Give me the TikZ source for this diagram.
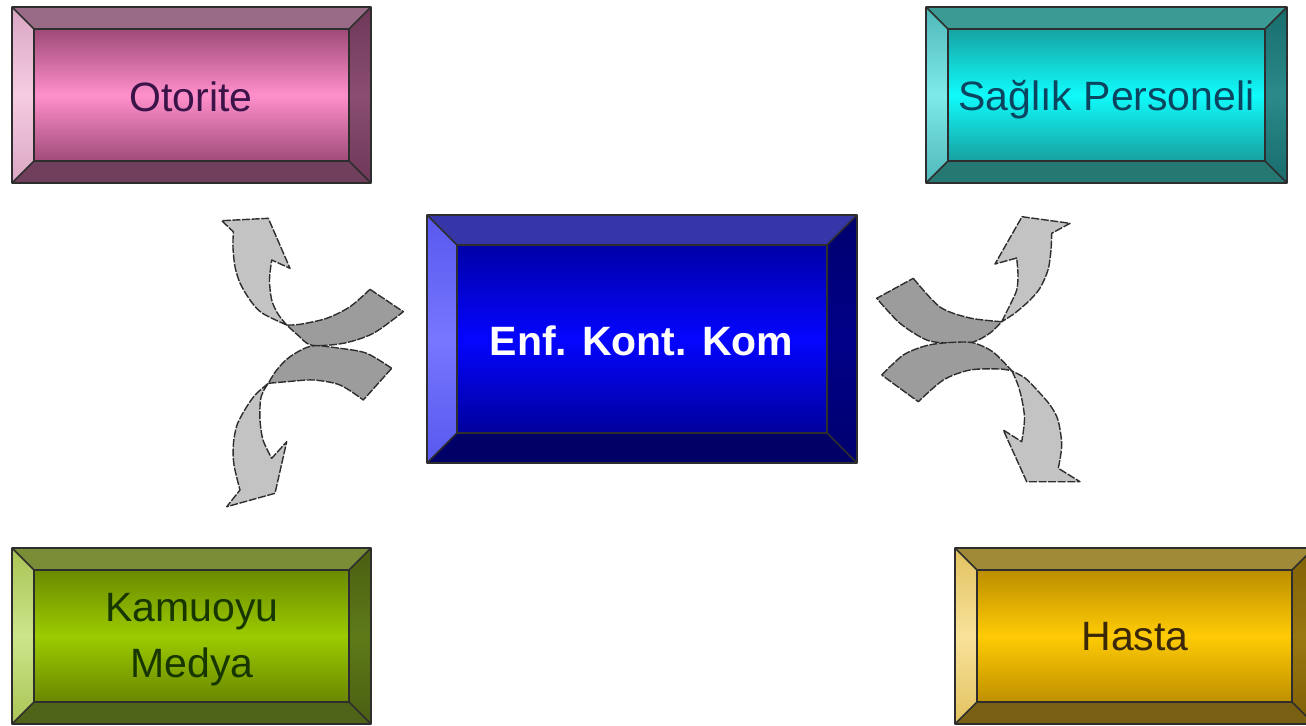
\documentclass[tikz,border=0pt]{standalone}
\usepackage{fontspec}
\setmainfont{Liberation Sans}
\usetikzlibrary{calc}
% Otorite
\definecolor{otFt}{HTML}{9E4A78}\definecolor{otFm}{HTML}{FF8FCB}\definecolor{otFb}{HTML}{A04C7A}
\definecolor{otT}{HTML}{9A6B86}\definecolor{otL}{HTML}{D9A6C2}\definecolor{otLm}{HTML}{F5CCE2}
\definecolor{otR}{HTML}{6E3858}\definecolor{otRm}{HTML}{8A4E70}\definecolor{otB}{HTML}{6F3F5C}
\definecolor{otX}{HTML}{3A1448}
% Saglik
\definecolor{saFt}{HTML}{16A3A3}\definecolor{saFm}{HTML}{10FBFB}\definecolor{saFb}{HTML}{18A0A0}
\definecolor{saT}{HTML}{3B9A93}\definecolor{saL}{HTML}{4FB8B8}\definecolor{saLm}{HTML}{7FEAEA}
\definecolor{saR}{HTML}{196C6C}\definecolor{saRm}{HTML}{2A8A8A}\definecolor{saB}{HTML}{267873}
\definecolor{saX}{HTML}{0C4560}
% Kamuoyu
\definecolor{kaFt}{HTML}{6B8A00}\definecolor{kaFm}{HTML}{9BCB00}\definecolor{kaFb}{HTML}{6A8600}
\definecolor{kaT}{HTML}{7A8E38}\definecolor{kaL}{HTML}{A9C455}\definecolor{kaLm}{HTML}{CDE58A}
\definecolor{kaR}{HTML}{4A5E12}\definecolor{kaRm}{HTML}{5E7A18}\definecolor{kaB}{HTML}{4F6418}
\definecolor{kaX}{HTML}{173600}
% Hasta
\definecolor{haFt}{HTML}{BC8E00}\definecolor{haFm}{HTML}{FFCB05}\definecolor{haFb}{HTML}{BE9000}
\definecolor{haT}{HTML}{A08A38}\definecolor{haL}{HTML}{E2C260}\definecolor{haLm}{HTML}{F8E29A}
\definecolor{haR}{HTML}{7E6005}\definecolor{haRm}{HTML}{9A7810}\definecolor{haB}{HTML}{7A6012}
\definecolor{haX}{HTML}{3A2808}
% Center
\definecolor{enFt}{HTML}{0000A8}\definecolor{enFm}{HTML}{0505FF}\definecolor{enFb}{HTML}{00009C}
\definecolor{enT}{HTML}{3636A8}\definecolor{enL}{HTML}{5858EE}\definecolor{enLm}{HTML}{7676FF}
\definecolor{enR}{HTML}{00006E}\definecolor{enRm}{HTML}{000088}\definecolor{enB}{HTML}{000066}
% arrows
\definecolor{arrL}{HTML}{C3C3C3}\definecolor{arrD}{HTML}{9C9C9C}\definecolor{arrE}{HTML}{2E2E2E}

\newcommand\bevelbox[6]{%
  \pgfmathsetmacro\bxA{#2+#6}%
  \pgfmathsetmacro\bxB{#3+#6}%
  \pgfmathsetmacro\bxC{#4-#6}%
  \pgfmathsetmacro\bxD{#5-#6}%
  \shade[top color=#1Ft, bottom color=#1Fb, middle color=#1Fm] (\bxA,\bxB) rectangle (\bxC,\bxD);
  \fill[#1T] (#2,#3) -- (#4,#3) -- (\bxC,\bxB) -- (\bxA,\bxB) -- cycle;
  \shade[top color=#1L, bottom color=#1L, middle color=#1Lm] (#2,#3) -- (\bxA,\bxB) -- (\bxA,\bxD) -- (#2,#5) -- cycle;
  \shade[top color=#1R, bottom color=#1R, middle color=#1Rm] (#4,#3) -- (#4,#5) -- (\bxC,\bxD) -- (\bxC,\bxB) -- cycle;
  \fill[#1B] (#2,#5) -- (\bxA,\bxD) -- (\bxC,\bxD) -- (#4,#5) -- cycle;
  \draw[boxline] (#2,#3) rectangle (#4,#5) (\bxA,\bxB) rectangle (\bxC,\bxD)
     (#2,#3) -- (\bxA,\bxB) (#4,#3) -- (\bxC,\bxB) (#4,#5) -- (\bxC,\bxD) (#2,#5) -- (\bxA,\bxD);
}

\begin{document}
\begin{tikzpicture}[x=0.5pt,y=-0.5pt,
  boxline/.style={draw=black!82, line width=0.8pt, line join=round},
  lbl/.style={font=\fontsize{20.5}{28}\selectfont, inner sep=0pt, align=center},
  arrlight/.style={fill=arrL, draw=arrE, line width=0.7pt, line join=round, dash pattern=on 4pt off 0.8pt},
  arrdark/.style={fill=arrD, draw=arrE, line width=0.7pt, line join=round, dash pattern=on 4pt off 0.8pt}]
\useasboundingbox (0,0) rectangle (1306,725);
\clip (0,0) rectangle (1306,725);
\fill[white] (0,0) rectangle (1306,725);

% boxes
\bevelbox{ot}{12}{7}{371}{183}{22}
\bevelbox{sa}{926}{7}{1287}{183}{22}
\bevelbox{ka}{12}{548}{371}{724}{22}
\bevelbox{ha}{955}{548}{1314}{724}{22}
\bevelbox{en}{427}{215}{857}{463}{30}

\node[lbl, text=otX, anchor=base] (oto) at (191,111.5) {Otorite};
\node[lbl, text=saX, anchor=base] (sag) at (1106.5,110) {Sağlık Personeli};
\node[lbl, text=kaX, anchor=center] (kam) at (192,640) {Kamuoyu\\Medya};
\node[lbl, text=haX, anchor=base] (has) at (1135,650) {Hasta};
\node[lbl, text=white, anchor=base, font=\fontsize{20.5}{28}\selectfont\bfseries] (enf) at (641.5,355) {Enf. Kont. Kom};

% ---- left group: upper arrow
\draw[arrdark] (370,289.3) -- (403.3,311.7)
  -- plot[smooth] coordinates {(403.3,311.7) (373.3,333.3) (343.3,343.3) (311.7,345.2) (298.3,335.5) (286.7,325)}
  -- plot[smooth] coordinates {(286.7,325) (300,324.3) (326.7,318.3) (350,306.7) (370,289.3)} -- cycle;
\draw[arrlight] plot[smooth] coordinates {(286.7,325) (262,313) (250,300) (240,283) (235,266.7) (233,248) (233.3,231.7)}
  -- (221.7,220.7) -- (268.3,218.3) -- (290,268.3) -- (271.7,260)
  -- plot[smooth] coordinates {(271.7,260) (269.5,280) (271.7,300) (278,314) (286.7,325)} -- cycle;
% ---- left group: lower arrow
\draw[arrdark] (391.7,368.3)
  -- plot[smooth] coordinates {(391.7,368.3) (366.7,353.3) (340,348.3) (311.7,346) (290,356.7) (276.7,370) (268.3,383.3)}
  -- plot[smooth] coordinates {(268.3,383.3) (286.7,381.7) (313.3,380) (340,385) (363.3,400)} -- cycle;
\draw[arrlight] plot[smooth] coordinates {(268.3,383.3) (256,394) (246.7,406.7) (237,425) (233.3,445) (234,465) (240,490)}
  -- (226.7,506.7) -- (275,493.3) -- (286.7,441.7) -- (271.7,458.3)
  -- plot[smooth] coordinates {(271.7,458.3) (263,440) (260,420) (260.5,400) (264,390) (268.3,383.3)} -- cycle;

% ---- right group: upper arrow
\draw[arrdark] (913.3,278.3)
  -- plot[smooth] coordinates {(913.3,278.3) (940,307) (970,318) (1001.7,321.7)}
  -- plot[smooth] coordinates {(1001.7,321.7) (990,333) (973,342) (950,343) (926.7,340) (900,323.3) (876.7,298.3)} -- cycle;
\draw[arrlight] plot[smooth] coordinates {(1001.7,321.7) (1010,305) (1016.7,290) (1018,275) (1016.7,258)}
  -- (995,264) -- (1022,216.7) -- (1070,223.3) -- (1051.7,233.3)
  -- plot[smooth] coordinates {(1051.7,233.3) (1051,250) (1048,270) (1040,288) (1030,300) (1015,313) (1001.7,321.7)} -- cycle;
% ---- right group: lower arrow
\draw[arrdark] (881.7,375)
  -- plot[smooth] coordinates {(881.7,375) (903.3,355) (926.7,345.5) (950,342.5) (973,342.8) (993,352) (1012,371)}
  -- plot[smooth] coordinates {(1012,371) (1000,369) (970,370) (943.3,380) (918.3,401.7)} -- cycle;
\draw[arrlight] plot[smooth] coordinates {(1012,371) (1018,385) (1022,400) (1024.5,416.7) (1023.5,430) (1021.7,441.7)}
  -- (1003.3,430) -- (1026.7,481.7) -- (1080,481.7) -- (1058.3,468.3)
  -- plot[smooth] coordinates {(1058.3,468.3) (1061.7,445) (1058,420) (1050,405) (1037,390) (1025,378) (1012,371)} -- cycle;
\end{tikzpicture}
\end{document}
